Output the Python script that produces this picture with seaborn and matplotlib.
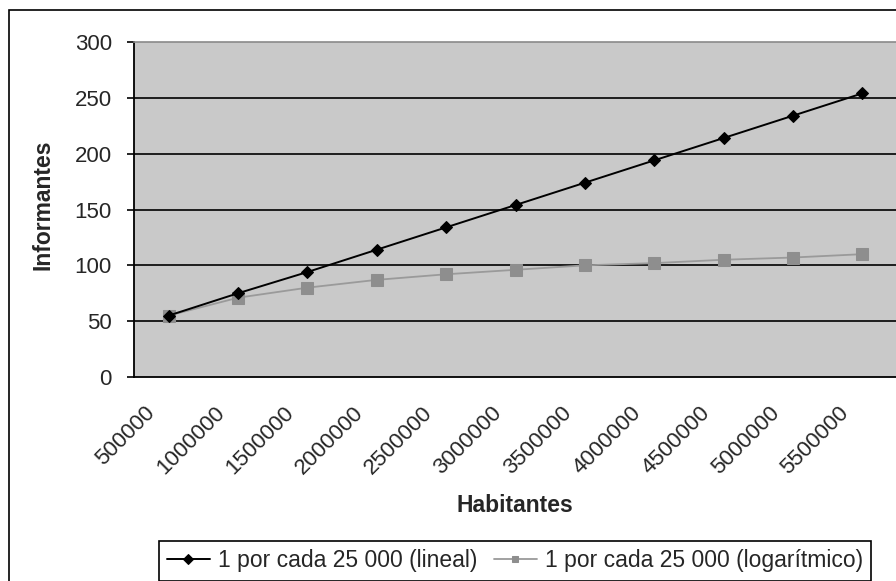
import numpy as np
import pandas as pd
import matplotlib
matplotlib.use("Agg")
import matplotlib.pyplot as plt
import matplotlib.transforms as mtransforms
from matplotlib.patches import Rectangle
import seaborn as sns

# ---- data ----
habitantes = ["500000", "1000000", "1500000", "2000000", "2500000", "3000000",
              "3500000", "4000000", "4500000", "5000000", "5500000"]
lineal = [55, 75, 94, 114, 134, 154, 174, 194, 214, 234, 254]
logaritmico = [55, 71, 80, 87, 92, 96, 100, 102, 105, 107, 110]
serie_lineal = "1 por cada 25 000 (lineal)"
serie_log = "1 por cada 25 000 (logarítmico)"
y_ticks = [0, 50, 100, 150, 200, 250, 300]

sns.set_style("white")
plt.rcParams["font.family"] = ["Liberation Sans", "DejaVu Sans"]

W, H = 896, 581
fig = plt.figure(figsize=(W / 100, H / 100), dpi=100)
fig.patch.set_facecolor("white")

# outer chart border (cut at right and bottom like reference)
fig.patches.append(Rectangle((9 / W, -0.05), 1.2, 1 - 10 / H + 0.05,
                             transform=fig.transFigure, fill=False,
                             edgecolor="black", linewidth=1.2, zorder=0))

left, right, top, bottom = 134, 897, 42, 377
ax = fig.add_axes([left / W, 1 - bottom / H, (right - left) / W, (bottom - top) / H])
ax.set_facecolor("#c9c9c9")

pos = np.arange(len(habitantes))
df = pd.DataFrame({"pos": np.concatenate([pos, pos]),
                   "val": lineal + logaritmico,
                   "serie": [serie_lineal] * len(pos) + [serie_log] * len(pos)})

for y in y_ticks[1:-1]:
    ax.axhline(y, color="black", linewidth=1.2, zorder=1)

sns.lineplot(data=df[df.serie == serie_log], x="pos", y="val", ax=ax,
             color="#9a9a9a", linewidth=1.3, marker="s", markersize=8,
             markerfacecolor="#8e8e8e", markeredgecolor="#8e8e8e",
             label=serie_log, zorder=3)
sns.lineplot(data=df[df.serie == serie_lineal], x="pos", y="val", ax=ax,
             color="black", linewidth=1.4, marker="D", markersize=6,
             markerfacecolor="black", markeredgecolor="black",
             label=serie_lineal, zorder=4)

ax.set_xlim(-0.5, len(habitantes) - 0.5)
ax.set_ylim(0, 300)
ax.set_yticks(y_ticks)
ax.set_yticklabels([str(v) for v in y_ticks], fontsize=16)

ax.set_xticks(pos)
ax.set_xticklabels(habitantes, fontsize=16, rotation=45, ha="right",
                   va="top", rotation_mode="anchor")
ax.set_xticks(np.arange(-0.5, len(habitantes) + 0.5, 1), minor=True)
ax.tick_params(axis="x", which="major", length=0, pad=18)
ax.tick_params(axis="x", which="minor", length=5, width=1.2, color="black",
               direction="out")
ax.tick_params(axis="y", length=5, width=1.2, color="black", direction="out",
               pad=11, left=True)
offset = mtransforms.ScaledTranslation(-24 / 100, 0, fig.dpi_scale_trans)
for lab in ax.get_xticklabels():
    lab.set_transform(lab.get_transform() + offset)

for s in ["left", "bottom"]:
    ax.spines[s].set_color("black")
    ax.spines[s].set_linewidth(1.3)
ax.spines["top"].set_color("#8a8a8a")
ax.spines["top"].set_linewidth(1.2)
ax.spines["right"].set_visible(False)

ax.set_xlabel("")
ax.set_ylabel("")
fig.text(43 / W, 1 - 205 / H, "Informantes", fontsize=16.5, fontweight="bold",
         ha="center", va="center", rotation=90)
fig.text(515 / W, 1 - 505 / H, "Habitantes", fontsize=16.5, fontweight="bold",
         ha="center", va="center")

handles, labels = ax.get_legend_handles_labels()
order = [labels.index(serie_lineal), labels.index(serie_log)]
leg = ax.legend([handles[i] for i in order], [labels[i] for i in order],
                loc="center", bbox_to_anchor=(515 / W, 1 - 561 / H),
                bbox_transform=fig.transFigure, ncol=2, fontsize=16.5,
                frameon=True, fancybox=False, framealpha=1, edgecolor="black",
                handlelength=1.9, handletextpad=0.35, columnspacing=0.7,
                borderpad=0.35, borderaxespad=0)
leg.get_frame().set_linewidth(1.2)
for lh in leg.legend_handles:
    lh.set_markersize(5)

fig.savefig("out.png", dpi=100)
